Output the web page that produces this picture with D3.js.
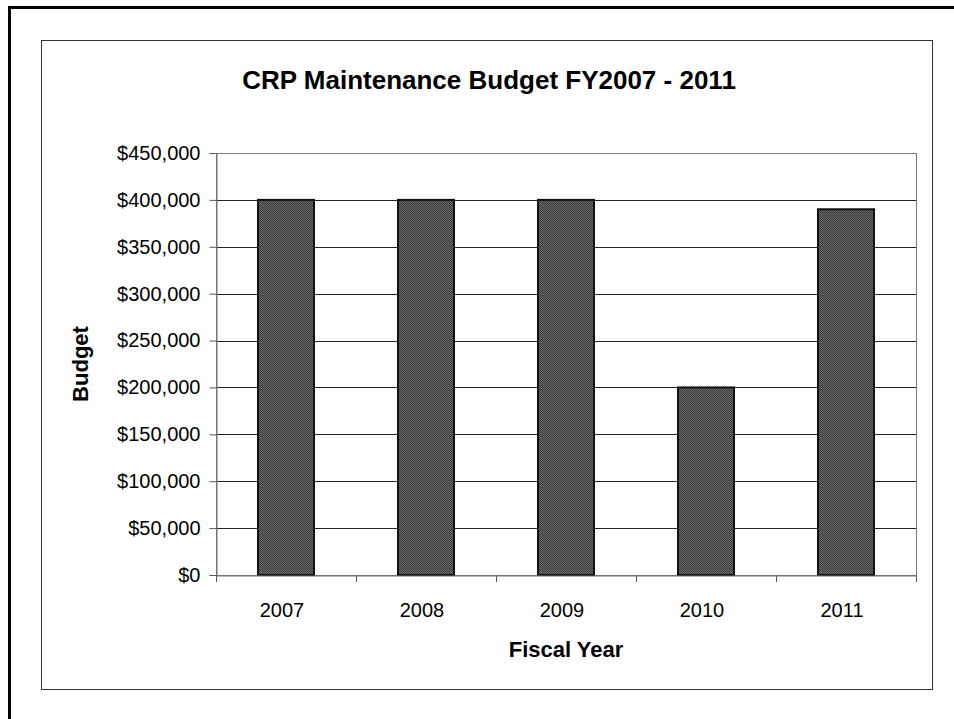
<!DOCTYPE html>
<html>
<head>
<meta charset="utf-8">
<script src="https://cdn.jsdelivr.net/npm/d3@7"></script>
<style>
  html, body { margin: 0; padding: 0; background: #fff; }
  svg { display: block; font-family: "Liberation Sans", Arial, sans-serif; }
</style>
</head>
<body>
<svg id="chart" width="954" height="719"></svg>
<script>
const years = ["2007", "2008", "2009", "2010", "2011"];
const budget = [400000, 400000, 400000, 200000, 390000];
const yTicks = [0, 50000, 100000, 150000, 200000, 250000, 300000, 350000, 400000, 450000];
const chartTitle = "CRP Maintenance Budget FY2007 - 2011";
const xTitle = "Fiscal Year";
const yTitle = "Budget";

const svg = d3.select("#chart");
const plot = { left: 216, right: 916, top: 153, bottom: 575 };

// dithered fill pattern similar to the scanned bars
const defs = svg.append("defs");
const pat = defs.append("pattern").attr("id", "dither")
  .attr("width", 2).attr("height", 2).attr("patternUnits", "userSpaceOnUse");
pat.append("rect").attr("width", 2).attr("height", 2).attr("fill", "#6a6a6a");
pat.append("rect").attr("width", 1).attr("height", 1).attr("fill", "#3a3a3a");
pat.append("rect").attr("x", 1).attr("y", 1).attr("width", 1).attr("height", 1).attr("fill", "#3a3a3a");

// outer frame (top + left only)
svg.append("path")
  .attr("d", `M9.5,719 L9.5,7.5 L954,7.5`)
  .attr("fill", "none").attr("stroke", "#000").attr("stroke-width", 3);

// chart area border
svg.append("rect")
  .attr("x", 41.5).attr("y", 40.5).attr("width", 891).attr("height", 649)
  .attr("fill", "#fff").attr("stroke", "#333").attr("stroke-width", 1);

const x = d3.scaleBand().domain(years).range([plot.left, plot.right]).paddingInner(0.6).paddingOuter(0.3);
const xb = d3.scaleBand().domain(years).range([plot.left, plot.right]);
const y = d3.scaleLinear().domain([0, 450000]).range([plot.bottom, plot.top]);

// gridlines
svg.append("g").selectAll("line").data(yTicks.filter(t => t > 0 && t < 450000)).join("line")
  .attr("x1", plot.left).attr("x2", plot.right)
  .attr("y1", d => Math.round(y(d)) + 0.5).attr("y2", d => Math.round(y(d)) + 0.5)
  .attr("stroke", "#222").attr("stroke-width", 1);

// plot area border
svg.append("rect")
  .attr("x", plot.left + 0.5).attr("y", plot.top + 0.5)
  .attr("width", plot.right - plot.left).attr("height", plot.bottom - plot.top)
  .attr("fill", "none").attr("stroke", "#777").attr("stroke-width", 1);

// bars
svg.append("g").selectAll("rect").data(years).join("rect")
  .attr("x", d => x(d)).attr("width", x.bandwidth())
  .attr("y", (d, i) => y(budget[i])).attr("height", (d, i) => plot.bottom - y(budget[i]))
  .attr("fill", "url(#dither)").attr("stroke", "#111").attr("stroke-width", 2);

// y axis
const yAxis = svg.append("g").attr("transform", `translate(${plot.left + 0.5},0)`)
  .call(d3.axisLeft(y).tickValues(yTicks).tickSize(7).tickPadding(9)
    .tickFormat(d => "$" + d3.format(",")(d)));
yAxis.select(".domain").attr("stroke", "#777");
yAxis.selectAll(".tick line").attr("stroke", "#555");
yAxis.selectAll("text").attr("font-size", 20).attr("fill", "#000")
  .attr("font-family", "Liberation Sans, Arial, sans-serif");

// x axis
const xAxis = svg.append("g").attr("transform", `translate(0,${plot.bottom + 0.5})`)
  .call(d3.axisBottom(xb).tickSize(0).tickPadding(27));
xAxis.select(".domain").attr("stroke", "#777");
xAxis.selectAll("text").attr("font-size", 20).attr("fill", "#000")
  .attr("dx", -4)
  .attr("font-family", "Liberation Sans, Arial, sans-serif");
// category boundary ticks
svg.append("g").selectAll("line").data(d3.range(years.length + 1)).join("line")
  .attr("x1", i => Math.round(plot.left + i * xb.step()) + 0.5)
  .attr("x2", i => Math.round(plot.left + i * xb.step()) + 0.5)
  .attr("y1", plot.bottom).attr("y2", plot.bottom + 7)
  .attr("stroke", "#555");

// titles
svg.append("text").attr("x", 489).attr("y", 89).attr("text-anchor", "middle")
  .attr("font-size", 26).attr("font-weight", "bold").text(chartTitle);
svg.append("text").attr("x", (plot.left + plot.right) / 2).attr("y", 657).attr("text-anchor", "middle")
  .attr("font-size", 22).attr("font-weight", "bold").text(xTitle);
svg.append("text").attr("transform", `translate(88,${(plot.top + plot.bottom) / 2}) rotate(-90)`)
  .attr("text-anchor", "middle")
  .attr("font-size", 22).attr("font-weight", "bold").text(yTitle);
</script>
</body>
</html>
